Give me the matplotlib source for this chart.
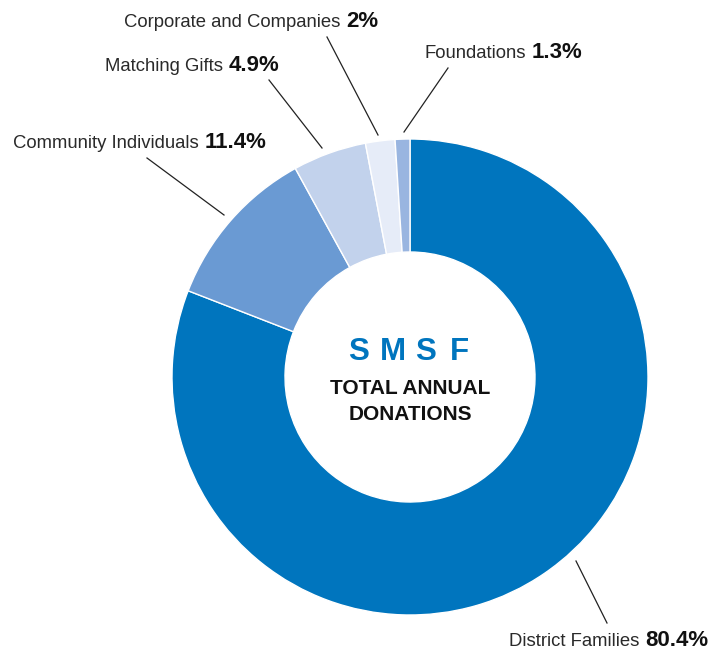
import matplotlib
matplotlib.use("Agg")
from matplotlib import pyplot as plt

# donation shares, clockwise from the top
labels = ["District Families", "Community Individuals", "Matching Gifts",
          "Corporate and Companies", "Foundations"]
# arc sizes as drawn in the picture (slightly off the printed labels)
shares = [80.9, 11.1, 5.0, 2.0, 1.0]
share_text = ["80.4%", "11.4%", "4.9%", "2%", "1.3%"]
colors = ["#0075BE", "#6A9AD3", "#C2D2EC", "#E6ECF8", "#99B5E0"]

W, H = 712, 652
FONT = "Liberation Sans"


def fy(y):
    # image pixel row -> axes y
    return H - y


fig = plt.figure(figsize=(W / 100, H / 100), dpi=100)
ax = fig.add_axes([0, 0, 1, 1])
ax.set_xlim(0, W)
ax.set_ylim(0, H)
ax.set_aspect("equal")
ax.axis("off")

cx, cy, r = 410, 377, 238
ax.pie(shares, colors=colors, startangle=90, counterclock=False,
       center=(cx, fy(cy)), radius=r,
       wedgeprops=dict(width=113, edgecolor="white", linewidth=1))
ax.set_xlim(0, W)
ax.set_ylim(0, H)

# label positions: split x between name and value, baseline y, leader line
label_pos = {
    "District Families": (639, 646, (576, 561), (607, 623)),
    "Community Individuals": (199, 148, (147, 158), (224, 215)),
    "Matching Gifts": (223, 71, (269, 80), (322, 148)),
    "Corporate and Companies": (340, 27, (327, 37), (378, 135)),
    "Foundations": (526, 58, (448, 68), (404, 132)),
}

for name, val in zip(labels, share_text):
    sx, by, p0, p1 = label_pos[name]
    ax.text(sx, fy(by), name, ha="right", va="baseline", fontsize=13.3,
            family=FONT, color="#2a2a2a")
    ax.text(sx + 6, fy(by), val, ha="left", va="baseline", fontsize=16,
            family=FONT, fontweight="bold", color="#111111")
    ax.plot([p0[0], p1[0]], [fy(p0[1]), fy(p1[1])], color="#222222", lw=0.9)

# centre title, letter spaced
title = "SMSF"
for i, ch in enumerate(title):
    ax.text(359 + i * 33.5, fy(352), ch, ha="center", va="center",
            fontsize=22.5, family=FONT, fontweight="bold", color="#0075BE")

ax.text(410, fy(389), "TOTAL ANNUAL", ha="center", va="center",
        fontsize=15, family=FONT, fontweight="bold", color="#111111")
ax.text(410, fy(415), "DONATIONS", ha="center", va="center",
        fontsize=15, family=FONT, fontweight="bold", color="#111111")

fig.savefig("out.png", dpi=100)
